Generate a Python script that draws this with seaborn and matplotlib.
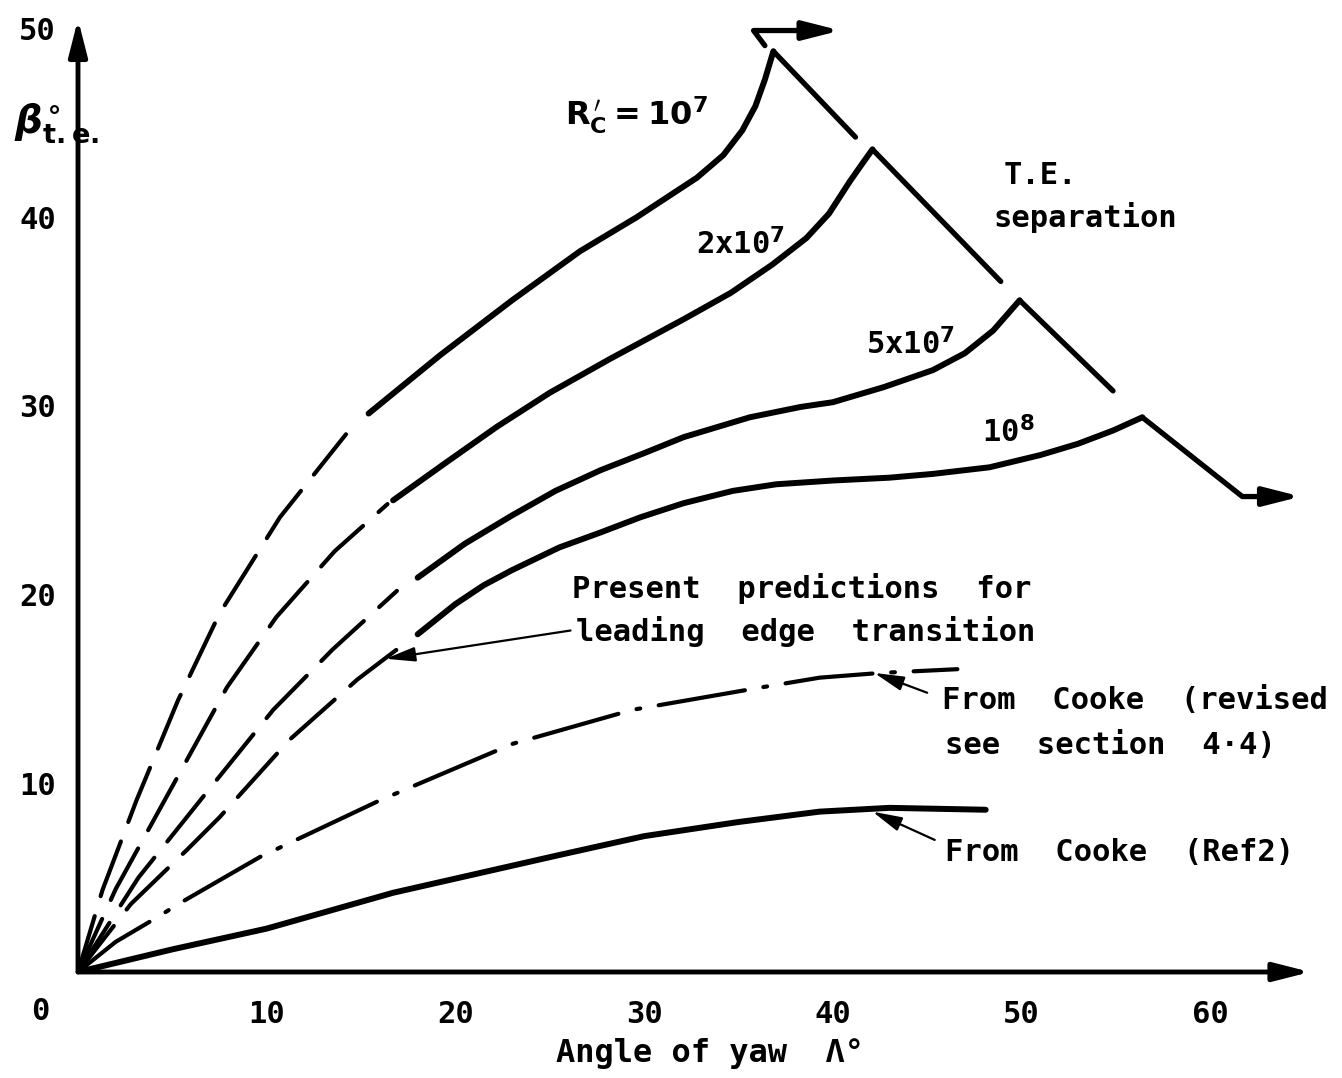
import matplotlib
matplotlib.use("Agg")
import matplotlib.pyplot as plt
import seaborn as sns

# --- curve data (angle of yaw, beta t.e.) ---
# Rc' = 1e7
c1_dash_x = [0, 1.3, 3.1, 5.3, 7.5, 10.7, 14.2]
c1_dash_y = [0, 4.35, 9.1, 14.4, 19.0, 24.1, 28.5]
c1_solid_x = [15.4, 19.2, 23.0, 26.6, 29.6, 32.8, 34.2, 35.2, 35.9, 36.4, 36.85]
c1_solid_y = [29.6, 32.7, 35.6, 38.2, 40.0, 42.1, 43.3, 44.6, 45.9, 47.3, 48.8]
# 2e7
c2_dash_x = [0, 2.0, 4.7, 7.9, 10.5, 13.6, 16.4]
c2_dash_y = [0, 4.4, 9.3, 15.1, 18.8, 22.3, 24.8]
c2_solid_x = [16.7, 19.5, 22.2, 25.0, 28.2, 32.1, 34.6, 36.8, 38.6, 39.8, 40.9, 41.6, 42.1]
c2_solid_y = [25.0, 27.0, 28.9, 30.7, 32.5, 34.6, 36.0, 37.5, 38.9, 40.2, 41.9, 42.9, 43.6]
# 5e7
c3_dash_x = [0, 3.2, 6.8, 10.35, 13.5, 16.9]
c3_dash_y = [0, 5.0, 9.5, 13.9, 17.1, 20.2]
c3_solid_x = [18.0, 20.5, 23.0, 25.3, 27.7, 30.0, 32.1, 35.6, 38.3, 40.0, 42.7, 45.3, 47.0, 48.5, 49.9]
c3_solid_y = [20.9, 22.7, 24.2, 25.5, 26.6, 27.5, 28.35, 29.4, 29.95, 30.2, 31.0, 31.9, 32.8, 34.0, 35.6]
# 1e8
c4_dash_x = [0, 2.8, 5.8, 7.5, 11.2, 14.8, 17.3]
c4_dash_y = [0, 3.6, 6.5, 8.2, 12.3, 15.5, 17.4]
c4_solid_x = [18.0, 20.0, 21.5, 23.0, 25.5, 27.7, 29.8, 32.1, 34.7, 37.0, 40.0, 43.0, 45.3, 48.3, 51.0, 53.0, 54.85, 56.4]
c4_solid_y = [17.9, 19.5, 20.5, 21.3, 22.5, 23.3, 24.1, 24.85, 25.5, 25.85, 26.05, 26.2, 26.4, 26.75, 27.4, 28.0, 28.7, 29.4]

# T.E. separation segments
te_x = [[36.85, 41.2], [42.1, 48.9], [49.9, 54.85], [56.4, 61.7, 63.0]]
te_y = [[48.8, 44.25], [43.6, 36.6], [35.6, 30.8], [29.4, 25.2, 25.2]]
te4_arrow_end = (64.8, 25.2)
hook_x = [36.4, 35.8, 38.0]
hook_y = [49.1, 49.9, 49.9]
hook_arrow_end = (40.4, 49.9)

# From Cooke (revised) - chain dotted
cr_x = [0, 2.0, 4.2, 5.4, 9.65, 16.0, 23.05, 29.4, 36.3, 39.3, 42.5, 46.6]
cr_y = [0, 1.6, 2.9, 3.65, 6.1, 9.1, 12.1, 13.9, 15.1, 15.6, 15.85, 16.05]
# From Cooke (Ref 2)
ck_x = [0, 5, 10, 16.7, 25.5, 30, 35, 39.3, 43, 48.1]
ck_y = [0, 1.2, 2.3, 4.2, 6.2, 7.2, 7.95, 8.5, 8.7, 8.6]

x_ticks = [10, 20, 30, 40, 50, 60]
y_ticks = [10, 20, 30, 40, 50]

sns.set_style("white")
plt.rcParams['font.family'] = ['DejaVu Sans Mono', 'DejaVu Sans']
plt.rcParams['font.weight'] = 'bold'
plt.rcParams['mathtext.fontset'] = 'dejavusans'
plt.rcParams['text.color'] = 'black'
plt.rcParams['xtick.color'] = 'black'
plt.rcParams['ytick.color'] = 'black'

fig = plt.figure(figsize=(13.42, 10.78), dpi=100)
ax = fig.add_axes([78 / 1342, 106 / 1078, 1253 / 1342, 966 / 1078])
ax.set_xlim(0, 66.4)
ax.set_ylim(0, 51.2)
for s in ax.spines.values():
    s.set_visible(False)

K = "black"
dash = (0, (14, 5))
dashdot = (0, (21, 4.5, 0.9, 4.5))


def line(x, y, lw, ls="-"):
    sns.lineplot(x=x, y=y, ax=ax, color=K, linewidth=lw, linestyle=ls,
                 estimator=None, sort=False, legend=False,
                 solid_joinstyle="round", solid_capstyle="round", dash_capstyle="round")


for dx, dy, sx, sy in [(c1_dash_x, c1_dash_y, c1_solid_x, c1_solid_y),
                       (c2_dash_x, c2_dash_y, c2_solid_x, c2_solid_y),
                       (c3_dash_x, c3_dash_y, c3_solid_x, c3_solid_y),
                       (c4_dash_x, c4_dash_y, c4_solid_x, c4_solid_y)]:
    line(dx, dy, 3.0, dash)
    line(sx, sy, 4.3)

for tx, ty in zip(te_x, te_y):
    line(tx, ty, 3.8)
line(hook_x, hook_y, 3.8)

line(cr_x, cr_y, 3.0, dashdot)
line(ck_x, ck_y, 4.3)

arrow_kw = dict(arrowstyle="-|>,head_length=1.1,head_width=0.28", color=K,
                mutation_scale=20, shrinkA=0, shrinkB=0)
ax.annotate("", xy=te4_arrow_end, xytext=(te_x[3][-1], te_y[3][-1]),
            arrowprops=dict(lw=3.8, **arrow_kw))
ax.annotate("", xy=hook_arrow_end, xytext=(hook_x[-1], hook_y[-1]),
            arrowprops=dict(lw=3.8, **arrow_kw))

# axes drawn as arrows
ax.annotate("", xy=(65.3, 0), xytext=(0, 0), arrowprops=dict(lw=3.5, **arrow_kw),
            annotation_clip=False)
ax.annotate("", xy=(0, 50.5), xytext=(0, 0), arrowprops=dict(lw=3.5, **arrow_kw),
            annotation_clip=False)

ax.set_xticks(x_ticks)
ax.set_yticks(y_ticks)
ax.set_xticklabels([str(v) for v in x_ticks])
ax.set_yticklabels([str(v) for v in y_ticks])
ax.tick_params(direction="in", length=11, width=3, labelsize=22, color=K)
ax.tick_params(axis="x", pad=20)
ax.tick_params(axis="y", pad=16)
ax.yaxis.get_major_ticks()[-1].tick1line.set_visible(False)
ax.text(-2.0, -2.1, "0", fontsize=22, ha="center", va="center")

ax.text(-3.4, 45.0, r"$\beta^{\circ}_{\mathbf{t.e.}}$", fontsize=28, ha="left", va="center")
ax.text(33.5, -4.3, "Angle of yaw  Λ°", fontsize=23, ha="center", va="center")

fs = 22
ax.text(29.6, 45.4, r"$\mathbf{R_{C}^{\,\prime}=10^{7}}$", fontsize=fs + 1, ha="center", va="center")
ax.text(35.1, 38.6, r"2x10$^{\mathbf{7}}$", fontsize=fs, ha="center", va="center")
ax.text(44.1, 33.3, r"5x10$^{\mathbf{7}}$", fontsize=fs, ha="center", va="center")
ax.text(49.3, 28.6, r"10$^{\mathbf{8}}$", fontsize=fs, ha="center", va="center")
ax.text(51.0, 42.2, "T.E.", fontsize=fs, ha="center", va="center")
ax.text(53.4, 40.0, "separation", fontsize=fs, ha="center", va="center")

ax.text(26.2, 20.35, "Present  predictions  for", fontsize=fs, ha="left", va="center")
ax.text(26.4, 18.05, "leading  edge  transition", fontsize=fs, ha="left", va="center")
ax.text(45.8, 14.4, "From  Cooke  (revised", fontsize=fs, ha="left", va="center")
ax.text(45.95, 12.0, "see  section  4·4)", fontsize=fs, ha="left", va="center")
ax.text(45.95, 6.36, "From  Cooke  (Ref2)", fontsize=fs, ha="left", va="center")

lead_kw = dict(arrowstyle="-|>,head_length=0.9,head_width=0.22", color=K, lw=1.6,
               mutation_scale=20, shrinkA=0, shrinkB=0)
ax.annotate("", xy=(16.3, 16.6), xytext=(26.1, 18.1), arrowprops=lead_kw)
ax.annotate("", xy=(42.2, 15.85), xytext=(45.0, 14.8), arrowprops=lead_kw)
ax.annotate("", xy=(42.1, 8.5), xytext=(45.4, 7.0), arrowprops=lead_kw)

fig.savefig("out.png", dpi=100, facecolor="white")
